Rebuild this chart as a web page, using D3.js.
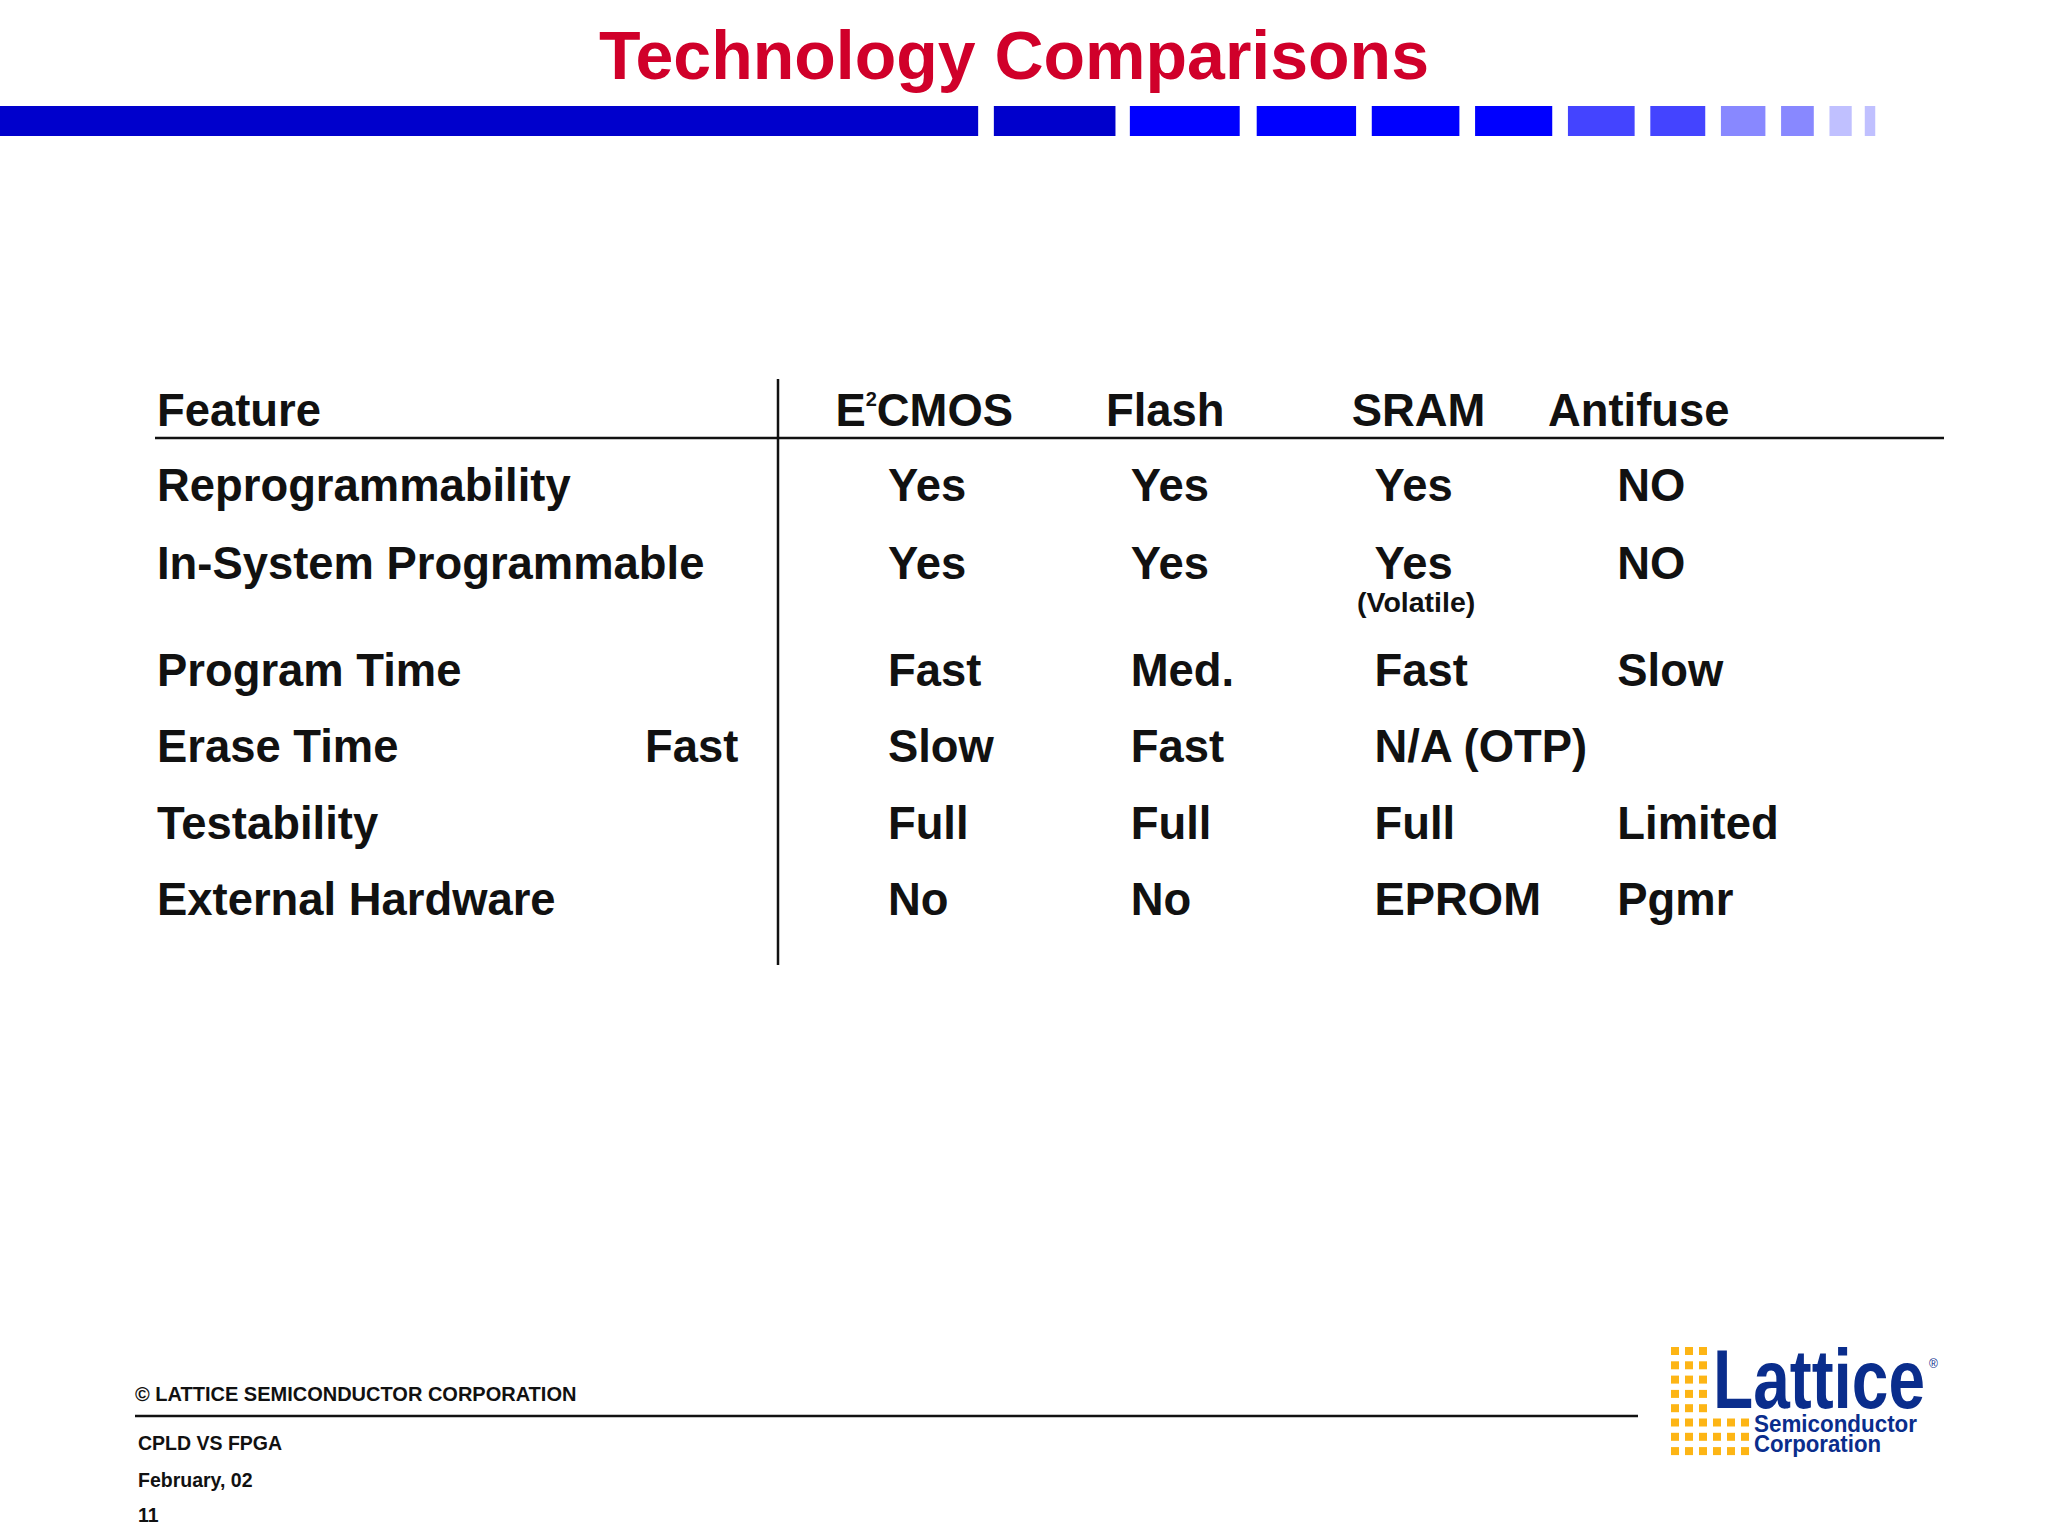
<!DOCTYPE html>
<html><head><meta charset="utf-8">
<script src="https://cdn.jsdelivr.net/npm/d3@7"></script>
<style>body{margin:0;background:#fff}svg{display:block}</style>
</head><body>
<script>
const title = "Technology Comparisons";
const headerLabel = "Feature";
const technologies = ["E2CMOS", "Flash", "SRAM", "Antifuse"];
const features = ["Reprogrammability","In-System Programmable","Program Time","Erase Time","Testability","External Hardware"];
const extraFeatureCell = ["","","","Fast","",""];
const values = [
  ["Yes","Yes","Yes","NO"],
  ["Yes","Yes","Yes","NO"],
  ["Fast","Med.","Fast","Slow"],
  ["Slow","Fast","N/A (OTP)",""],
  ["Full","Full","Full","Limited"],
  ["No","No","EPROM","Pgmr"]
];
const notes = [{row:1, col:2, text:"(Volatile)"}];
const barSegments = [[0,748,"#0000cc"],[760,853,"#0000cc"],[864,948,"#0000ff"],[961,1037,"#0000ff"],[1049,1116,"#0000ff"],[1128,1187,"#0000ff"],[1199,1250,"#4444ff"],[1262,1304,"#4444ff"],[1316,1350,"#8888ff"],[1362,1387,"#8888ff"],[1399,1416,"#c0c0ff"],[1426,1434,"#c0c0ff"]];
const footerLines = ["CPLD VS FPGA","February, 02","11"];

const W=2048,H=1536, s=1.3077, k=0.991;
const svg=d3.select("body").append("svg").attr("width",W).attr("height",H);
const F="Liberation Sans, Arial, sans-serif";

svg.append("text").attr("x",1014).attr("y",79).attr("text-anchor","middle")
  .attr("font-family",F).attr("font-weight","bold").attr("font-size",68).attr("fill","#d0002a").text(title);

svg.selectAll("rect.bar").data(barSegments).enter().append("rect")
  .attr("x",d=>d[0]*s).attr("width",d=>(d[1]-d[0])*s).attr("y",106).attr("height",30).attr("fill",d=>d[2]);

// table
const colX = d3.scaleOrdinal().domain(technologies).range([896*k,1141*k,1387*k,1632*k]);
const headX = d3.scaleOrdinal().domain(technologies).range([843*k,1116*k,1364*k,1562*k]);
const rowY = d3.scaleOrdinal().domain(features).range([501,579,686,762,839,915]);
const fs=45.4;
const g=svg.append("g").attr("font-family",F).attr("font-weight","bold").attr("font-size",fs).attr("fill","#111");
g.append("text").attr("x",157).attr("y",426).text(headerLabel);
technologies.forEach(t=>{
  const tx=g.append("text").attr("x",headX(t)).attr("y",426);
  if(t==="E2CMOS"){tx.append("tspan").text("E");tx.append("tspan").attr("font-size",20).attr("dy",-20).text("2");tx.append("tspan").attr("dy",20).text("CMOS");}
  else tx.text(t);
});
svg.append("line").attr("x1",155).attr("x2",1944).attr("y1",438).attr("y2",438).attr("stroke","#111").attr("stroke-width",2.5);
svg.append("line").attr("x1",778).attr("x2",778).attr("y1",379).attr("y2",965).attr("stroke","#111").attr("stroke-width",2.5);
features.forEach((f,i)=>{
  g.append("text").attr("x",157).attr("y",rowY(f)).text(f);
  if(extraFeatureCell[i]) g.append("text").attr("x",645).attr("y",rowY(f)).text(extraFeatureCell[i]);
  technologies.forEach((t,j)=>{ if(values[i][j]) g.append("text").attr("x",colX(t)).attr("y",rowY(f)).text(values[i][j]); });
});
notes.forEach(n=>g.append("text").attr("x",1357).attr("y",612).attr("font-size",28.5).text(n.text));

// footer
const fg=svg.append("g").attr("font-family",F).attr("font-weight","bold").attr("fill","#111");
fg.append("text").attr("x",135).attr("y",1401).attr("font-size",20).text("© LATTICE SEMICONDUCTOR CORPORATION");
svg.append("line").attr("x1",135).attr("x2",1638).attr("y1",1416).attr("y2",1416).attr("stroke","#111").attr("stroke-width",2.5);
footerLines.forEach((t,i)=>fg.append("text").attr("x",138).attr("y",[1450,1487,1522][i]).attr("font-size",19.5).text(t));

// logo
const lg=svg.append("g");
for(let r=0;r<8;r++){const nc=r<5?3:6;for(let c=0;c<nc;c++)
  lg.append("rect").attr("x",1671+c*14).attr("y",1347+r*14.3).attr("width",8).attr("height",8).attr("fill","#fdb515");}
lg.append("text").attr("x",1713).attr("y",1408).attr("font-family",F).attr("font-weight","bold").attr("font-size",84)
  .attr("textLength",212).attr("lengthAdjust","spacingAndGlyphs").attr("fill","#0a2d8c").text("Lattice");
lg.append("text").attr("x",1929).attr("y",1368).attr("font-family",F).attr("font-size",12).attr("fill","#0a2d8c").text("®");
lg.append("text").attr("x",1754).attr("y",1432).attr("font-family",F).attr("font-weight","bold").attr("font-size",23)
  .attr("textLength",163).attr("lengthAdjust","spacingAndGlyphs").attr("fill","#0a2d8c").text("Semiconductor");
lg.append("text").attr("x",1754).attr("y",1452).attr("font-family",F).attr("font-weight","bold").attr("font-size",23)
  .attr("textLength",127).attr("lengthAdjust","spacingAndGlyphs").attr("fill","#0a2d8c").text("Corporation");
</script>
</body></html>
